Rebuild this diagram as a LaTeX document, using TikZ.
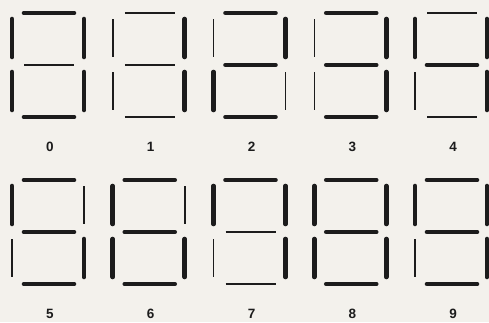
\documentclass[tikz,border=0pt]{standalone}
\usepackage{fontspec}
\setmainfont{Liberation Sans}
\definecolor{paper}{HTML}{F3F1EC}
\definecolor{ink}{HTML}{1C1C1C}
\begin{document}
\begin{tikzpicture}[x=1pt,y=-1pt,
  on/.style={draw=ink,line width=4.6pt,line cap=round},
  off/.style={draw=ink,line width=1.5pt},
  lbl/.style={font=\fontsize{13.5}{13.5}\selectfont\bfseries,text=ink,inner sep=0pt}]
\useasboundingbox (0,0) rectangle (489,322);
\fill[paper] (0,0) rectangle (489,322);
\foreach \n/\col/\row/\a/\b/\c/\d/\e/\f/\g in {
  0/0/0/on/on/on/on/on/on/off,
  1/1/0/off/on/on/off/off/off/off,
  2/2/0/on/on/off/on/on/off/on,
  3/3/0/on/on/on/on/off/off/on,
  4/4/0/off/on/on/off/off/on/on,
  5/0/1/on/off/on/on/off/on/on,
  6/1/1/on/off/on/on/on/on/on,
  7/2/1/on/on/on/off/off/on/off,
  8/3/1/on/on/on/on/on/on/on,
  9/4/1/on/on/on/on/off/on/on}{
  \pgfmathsetmacro\X{12+100.75*\col}
  \pgfmathsetmacro\Y{167*\row}
  \begin{scope}[shift={(\X,\Y)}]
    \coordinate (a1) at (12,13);  \coordinate (a2) at (62,13);
    \coordinate (g1) at (12,65);  \coordinate (g2) at (62,65);
    \coordinate (d1) at (12,117); \coordinate (d2) at (62,117);
    \coordinate (f1) at (0,19);   \coordinate (f2) at (0,57);
    \coordinate (e1) at (0,72);   \coordinate (e2) at (0,110);
    \coordinate (b1) at (72,19);  \coordinate (b2) at (72,57);
    \coordinate (c1) at (72,72);  \coordinate (c2) at (72,110);
    \path[\a] (a1) -- (a2);
    \path[\b] (b1) -- (b2);
    \path[\c] (c1) -- (c2);
    \path[\d] (d1) -- (d2);
    \path[\e] (e1) -- (e2);
    \path[\f] (f1) -- (f2);
    \path[\g] (g1) -- (g2);
    \node[lbl] (L\n) at (38,147) {\n};
  \end{scope}
}
\end{tikzpicture}
\end{document}
